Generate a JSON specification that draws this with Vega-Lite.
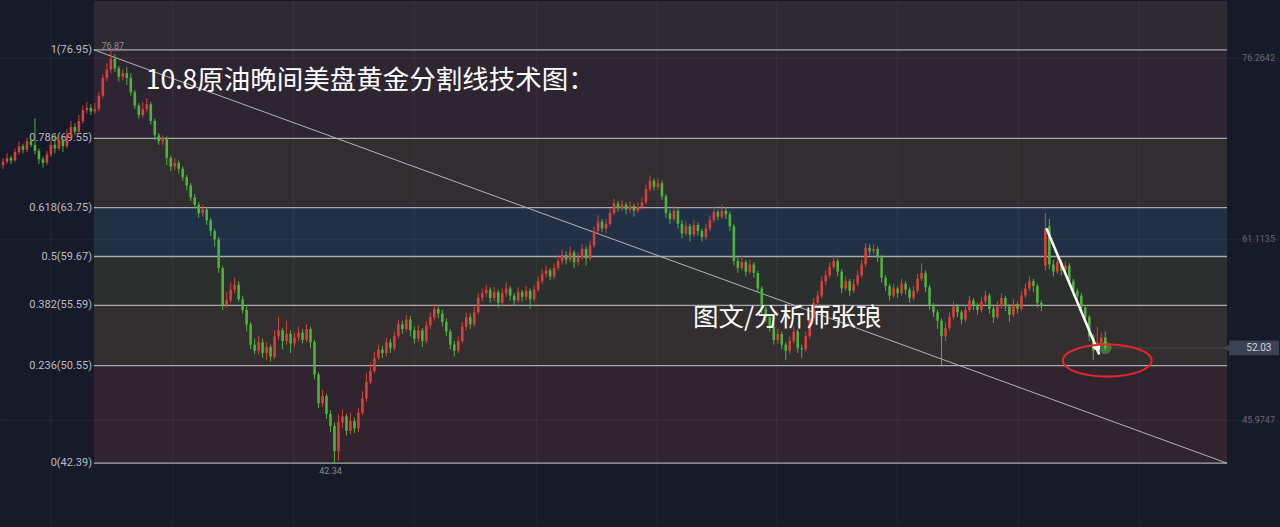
{
"$schema":"https://vega.github.io/schema/vega-lite/v6.json",
"width":1280,"height":527,
"autosize":{"type":"fit","contains":"padding"},
"padding":0,
"background":"#161a29",
"config":{"view":{"stroke":null}},
"datasets":{
"bands":[{"lo":76.95,"hi":81.03,"fill":"#2f2a31"},{"lo":69.55,"hi":76.95,"fill":"#2e2533"},{"lo":63.75,"hi":69.55,"fill":"#312d30"},{"lo":59.67,"hi":63.75,"fill":"#223045"},{"lo":55.59,"hi":59.67,"fill":"#2b302f"},{"lo":50.55,"hi":55.59,"fill":"#332e2f"},{"lo":42.39,"hi":50.55,"fill":"#30242e"}],
"fib":[{"t":"1(76.95)","p":76.95},{"t":"0.786(69.55)","p":69.55},{"t":"0.618(63.75)","p":63.75},{"t":"0.5(59.67)","p":59.67},{"t":"0.382(55.59)","p":55.59},{"t":"0.236(50.55)","p":50.55},{"t":"0(42.39)","p":42.39}],
"gridh":[{"p":76.2642,"t":"76.2642"},{"p":61.1135,"t":"61.1135"},{"p":45.9747,"t":"45.9747"}],
"gridv":[{"g":12},{"g":42.5},{"g":72.75},{"g":103},{"g":133.5},{"g":163.75},{"g":193.75},{"g":224},{"g":254.25},{"g":284.5}],
"trend":[{"i":22.75,"p":76.95},{"i":306.5,"p":42.39}],
"candles":[
{"i":0,"o":67.3,"h":67.9,"l":67.0,"c":67.6},{"i":1,"o":67.6,"h":68.3,"l":67.4,"c":67.9},{"i":2,"o":67.9,"h":68.1,"l":67.4,"c":67.7},{"i":3,"o":67.7,"h":68.7,"l":67.6,"c":68.4},{"i":4,"o":68.4,"h":69.3,"l":68.2,"c":68.9},{"i":5,"o":68.9,"h":69.1,"l":68.3,"c":68.6},{"i":6,"o":68.6,"h":69.6,"l":68.4,"c":69.3},{"i":7,"o":69.3,"h":69.5,"l":68.8,"c":69.0},{"i":8,"o":69.0,"h":71.2,"l":68.2,"c":68.5},{"i":9,"o":68.5,"h":68.7,"l":67.4,"c":67.8},
{"i":10,"o":67.8,"h":68.0,"l":67.1,"c":67.5},{"i":11,"o":67.5,"h":68.5,"l":67.3,"c":68.2},{"i":12,"o":68.2,"h":69.4,"l":68.0,"c":69.0},{"i":13,"o":69.0,"h":70.0,"l":68.3,"c":68.7},{"i":14,"o":68.7,"h":69.8,"l":68.5,"c":69.4},{"i":15,"o":69.4,"h":69.6,"l":68.4,"c":68.9},{"i":16,"o":68.9,"h":70.3,"l":68.7,"c":69.8},{"i":17,"o":69.8,"h":71.0,"l":69.5,"c":70.5},{"i":18,"o":70.5,"h":70.8,"l":69.8,"c":70.1},{"i":19,"o":70.1,"h":71.5,"l":69.9,"c":71.0},
{"i":20,"o":71.0,"h":72.3,"l":70.8,"c":71.9},{"i":21,"o":71.9,"h":72.6,"l":71.6,"c":72.1},{"i":22,"o":72.1,"h":72.4,"l":71.5,"c":71.8},{"i":23,"o":71.8,"h":72.5,"l":71.6,"c":72.0},{"i":24,"o":72.0,"h":73.4,"l":71.8,"c":73.1},{"i":25,"o":73.1,"h":74.9,"l":72.9,"c":74.6},{"i":26,"o":74.6,"h":75.8,"l":74.3,"c":75.3},{"i":27,"o":75.3,"h":76.87,"l":75.0,"c":76.2},{"i":28,"o":76.2,"h":76.6,"l":75.1,"c":75.4},{"i":29,"o":75.4,"h":75.6,"l":74.3,"c":74.7},
{"i":30,"o":74.7,"h":75.3,"l":74.4,"c":75.0},{"i":31,"o":75.0,"h":75.5,"l":74.0,"c":74.6},{"i":32,"o":74.6,"h":75.0,"l":73.1,"c":73.4},{"i":33,"o":73.4,"h":73.6,"l":72.0,"c":72.3},{"i":34,"o":72.3,"h":72.5,"l":71.2,"c":71.5},{"i":35,"o":71.5,"h":72.6,"l":71.3,"c":72.0},{"i":36,"o":72.0,"h":72.9,"l":71.7,"c":72.4},{"i":37,"o":72.4,"h":72.6,"l":70.7,"c":71.0},{"i":38,"o":71.0,"h":71.2,"l":69.4,"c":69.8},{"i":39,"o":69.8,"h":70.0,"l":69.0,"c":69.3},
{"i":40,"o":69.3,"h":69.8,"l":69.0,"c":69.6},{"i":41,"o":69.6,"h":69.7,"l":67.3,"c":67.9},{"i":42,"o":67.9,"h":68.1,"l":66.8,"c":67.2},{"i":43,"o":67.2,"h":67.9,"l":66.9,"c":67.5},{"i":44,"o":67.5,"h":67.7,"l":66.6,"c":67.0},{"i":45,"o":67.0,"h":67.2,"l":66.0,"c":66.3},{"i":46,"o":66.3,"h":66.5,"l":65.2,"c":65.6},{"i":47,"o":65.6,"h":65.8,"l":64.3,"c":64.6},{"i":48,"o":64.6,"h":64.9,"l":63.7,"c":64.0},{"i":49,"o":64.0,"h":64.2,"l":62.9,"c":63.3},
{"i":50,"o":63.3,"h":64.0,"l":63.0,"c":63.6},{"i":51,"o":63.6,"h":63.8,"l":62.3,"c":62.7},{"i":52,"o":62.7,"h":62.9,"l":61.4,"c":61.8},{"i":53,"o":61.8,"h":62.0,"l":60.5,"c":61.1},{"i":54,"o":61.1,"h":61.3,"l":58.3,"c":58.7},{"i":55,"o":58.7,"h":58.9,"l":55.2,"c":55.6},{"i":56,"o":55.6,"h":56.7,"l":55.4,"c":56.0},{"i":57,"o":56.0,"h":57.5,"l":55.8,"c":56.9},{"i":58,"o":56.9,"h":57.9,"l":56.6,"c":57.3},{"i":59,"o":57.3,"h":57.6,"l":55.9,"c":56.1},
{"i":60,"o":56.1,"h":56.4,"l":54.9,"c":55.2},{"i":61,"o":55.2,"h":55.6,"l":53.4,"c":54.0},{"i":62,"o":54.0,"h":54.2,"l":51.9,"c":52.3},{"i":63,"o":52.3,"h":52.8,"l":51.5,"c":51.8},{"i":64,"o":51.8,"h":53.0,"l":51.5,"c":52.5},{"i":65,"o":52.5,"h":52.8,"l":51.2,"c":51.6},{"i":66,"o":51.6,"h":52.5,"l":51.0,"c":52.1},{"i":67,"o":52.1,"h":52.3,"l":50.9,"c":51.3},{"i":68,"o":51.3,"h":53.5,"l":51.1,"c":53.0},{"i":69,"o":53.0,"h":54.6,"l":52.7,"c":53.5},
{"i":70,"o":53.5,"h":53.7,"l":51.9,"c":52.6},{"i":71,"o":52.6,"h":54.3,"l":52.3,"c":53.2},{"i":72,"o":53.2,"h":53.5,"l":51.6,"c":52.4},{"i":73,"o":52.4,"h":53.3,"l":52.1,"c":52.9},{"i":74,"o":52.9,"h":53.8,"l":52.6,"c":53.3},{"i":75,"o":53.3,"h":53.6,"l":52.4,"c":52.7},{"i":76,"o":52.7,"h":54.0,"l":52.5,"c":53.6},{"i":77,"o":53.6,"h":53.8,"l":52.0,"c":52.5},{"i":78,"o":52.5,"h":52.7,"l":49.4,"c":49.8},{"i":79,"o":49.8,"h":50.0,"l":47.0,"c":47.4},
{"i":80,"o":47.4,"h":48.5,"l":47.1,"c":48.0},{"i":81,"o":48.0,"h":48.2,"l":46.1,"c":46.5},{"i":82,"o":46.5,"h":46.8,"l":45.0,"c":45.5},{"i":83,"o":45.5,"h":45.8,"l":42.34,"c":43.4},{"i":84,"o":43.4,"h":46.5,"l":42.6,"c":45.8},{"i":85,"o":45.8,"h":46.9,"l":45.3,"c":46.3},{"i":86,"o":46.3,"h":46.5,"l":44.7,"c":45.1},{"i":87,"o":45.1,"h":46.6,"l":44.8,"c":45.9},{"i":88,"o":45.9,"h":46.2,"l":44.9,"c":45.3},{"i":89,"o":45.3,"h":47.0,"l":45.0,"c":46.6},
{"i":90,"o":46.6,"h":48.4,"l":46.4,"c":47.8},{"i":91,"o":47.8,"h":49.9,"l":47.5,"c":49.2},{"i":92,"o":49.2,"h":50.8,"l":49.0,"c":50.1},{"i":93,"o":50.1,"h":51.7,"l":49.9,"c":51.2},{"i":94,"o":51.2,"h":52.3,"l":51.0,"c":51.9},{"i":95,"o":51.9,"h":52.2,"l":51.2,"c":51.6},{"i":96,"o":51.6,"h":52.9,"l":51.3,"c":52.5},{"i":97,"o":52.5,"h":52.8,"l":51.6,"c":52.0},{"i":98,"o":52.0,"h":53.4,"l":51.8,"c":53.0},{"i":99,"o":53.0,"h":54.4,"l":52.8,"c":54.0},
{"i":100,"o":54.0,"h":54.3,"l":53.2,"c":53.6},{"i":101,"o":53.6,"h":54.8,"l":53.4,"c":54.4},{"i":102,"o":54.4,"h":54.7,"l":53.0,"c":53.5},{"i":103,"o":53.5,"h":53.8,"l":52.4,"c":52.8},{"i":104,"o":52.8,"h":53.9,"l":52.5,"c":53.5},{"i":105,"o":53.5,"h":53.7,"l":52.1,"c":52.6},{"i":106,"o":52.6,"h":54.3,"l":52.4,"c":53.9},{"i":107,"o":53.9,"h":55.0,"l":53.6,"c":54.6},{"i":108,"o":54.6,"h":55.7,"l":54.3,"c":55.3},{"i":109,"o":55.3,"h":55.6,"l":54.5,"c":54.9},
{"i":110,"o":54.9,"h":55.2,"l":53.8,"c":54.2},{"i":111,"o":54.2,"h":54.5,"l":53.0,"c":53.4},{"i":112,"o":53.4,"h":53.6,"l":51.9,"c":52.3},{"i":113,"o":52.3,"h":52.6,"l":51.3,"c":51.8},{"i":114,"o":51.8,"h":53.0,"l":51.6,"c":52.6},{"i":115,"o":52.6,"h":54.2,"l":52.4,"c":53.8},{"i":116,"o":53.8,"h":55.0,"l":53.5,"c":54.6},{"i":117,"o":54.6,"h":54.9,"l":53.6,"c":54.0},{"i":118,"o":54.0,"h":55.5,"l":53.8,"c":55.0},{"i":119,"o":55.0,"h":56.6,"l":54.8,"c":56.2},
{"i":120,"o":56.2,"h":57.0,"l":55.9,"c":56.6},{"i":121,"o":56.6,"h":57.3,"l":56.3,"c":56.9},{"i":122,"o":56.9,"h":57.1,"l":55.8,"c":56.2},{"i":123,"o":56.2,"h":57.1,"l":55.9,"c":56.7},{"i":124,"o":56.7,"h":56.9,"l":55.4,"c":55.8},{"i":125,"o":55.8,"h":57.0,"l":55.5,"c":56.6},{"i":126,"o":56.6,"h":57.5,"l":56.3,"c":57.0},{"i":127,"o":57.0,"h":57.2,"l":56.0,"c":56.4},{"i":128,"o":56.4,"h":56.6,"l":55.6,"c":56.0},{"i":129,"o":56.0,"h":57.1,"l":55.8,"c":56.7},
{"i":130,"o":56.7,"h":56.9,"l":55.9,"c":56.3},{"i":131,"o":56.3,"h":57.2,"l":56.0,"c":56.8},{"i":132,"o":56.8,"h":57.0,"l":55.3,"c":56.1},{"i":133,"o":56.1,"h":57.3,"l":55.9,"c":56.9},{"i":134,"o":56.9,"h":58.0,"l":56.7,"c":57.6},{"i":135,"o":57.6,"h":58.6,"l":57.4,"c":58.2},{"i":136,"o":58.2,"h":58.9,"l":57.9,"c":58.5},{"i":137,"o":58.5,"h":58.7,"l":57.7,"c":58.0},{"i":138,"o":58.0,"h":59.1,"l":57.8,"c":58.7},{"i":139,"o":58.7,"h":59.8,"l":58.5,"c":59.3},
{"i":140,"o":59.3,"h":60.3,"l":59.0,"c":59.8},{"i":141,"o":59.8,"h":60.1,"l":59.0,"c":59.4},{"i":142,"o":59.4,"h":60.5,"l":59.2,"c":60.0},{"i":143,"o":60.0,"h":60.2,"l":58.7,"c":59.2},{"i":144,"o":59.2,"h":60.0,"l":58.9,"c":59.6},{"i":145,"o":59.6,"h":60.7,"l":59.4,"c":60.3},{"i":146,"o":60.3,"h":60.5,"l":58.9,"c":59.5},{"i":147,"o":59.5,"h":61.0,"l":59.3,"c":60.6},{"i":148,"o":60.6,"h":62.2,"l":60.4,"c":61.8},{"i":149,"o":61.8,"h":63.1,"l":61.6,"c":62.6},
{"i":150,"o":62.6,"h":62.8,"l":61.7,"c":62.0},{"i":151,"o":62.0,"h":62.8,"l":61.6,"c":62.4},{"i":152,"o":62.4,"h":63.7,"l":62.2,"c":63.3},{"i":153,"o":63.3,"h":64.5,"l":63.1,"c":64.1},{"i":154,"o":64.1,"h":64.3,"l":63.4,"c":63.7},{"i":155,"o":63.7,"h":64.4,"l":63.5,"c":64.0},{"i":156,"o":64.0,"h":64.2,"l":63.2,"c":63.6},{"i":157,"o":63.6,"h":64.3,"l":63.3,"c":63.9},{"i":158,"o":63.9,"h":64.1,"l":63.0,"c":63.5},{"i":159,"o":63.5,"h":64.2,"l":63.3,"c":63.8},
{"i":160,"o":63.8,"h":64.6,"l":63.6,"c":64.2},{"i":161,"o":64.2,"h":65.7,"l":64.0,"c":65.3},{"i":162,"o":65.3,"h":66.45,"l":65.1,"c":66.0},{"i":163,"o":66.0,"h":66.2,"l":65.2,"c":65.5},{"i":164,"o":65.5,"h":66.2,"l":65.2,"c":65.8},{"i":165,"o":65.8,"h":66.0,"l":64.4,"c":64.7},{"i":166,"o":64.7,"h":64.9,"l":62.9,"c":63.3},{"i":167,"o":63.3,"h":63.6,"l":62.4,"c":62.8},{"i":168,"o":62.8,"h":63.9,"l":62.6,"c":63.5},{"i":169,"o":63.5,"h":63.7,"l":62.0,"c":62.4},
{"i":170,"o":62.4,"h":62.7,"l":61.2,"c":61.6},{"i":171,"o":61.6,"h":62.6,"l":61.4,"c":62.2},{"i":172,"o":62.2,"h":62.4,"l":60.9,"c":61.5},{"i":173,"o":61.5,"h":62.7,"l":61.3,"c":62.3},{"i":174,"o":62.3,"h":62.5,"l":61.4,"c":61.8},{"i":175,"o":61.8,"h":62.0,"l":60.9,"c":61.3},{"i":176,"o":61.3,"h":62.4,"l":61.1,"c":62.0},{"i":177,"o":62.0,"h":63.1,"l":61.8,"c":62.7},{"i":178,"o":62.7,"h":63.8,"l":62.5,"c":63.4},{"i":179,"o":63.4,"h":63.6,"l":62.7,"c":63.0},
{"i":180,"o":63.0,"h":64.0,"l":62.8,"c":63.5},{"i":181,"o":63.5,"h":63.8,"l":62.8,"c":63.2},{"i":182,"o":63.2,"h":63.4,"l":61.8,"c":62.2},{"i":183,"o":62.2,"h":62.4,"l":58.9,"c":59.3},{"i":184,"o":59.3,"h":59.6,"l":58.3,"c":58.7},{"i":185,"o":58.7,"h":59.7,"l":58.5,"c":59.2},{"i":186,"o":59.2,"h":59.4,"l":58.0,"c":58.4},{"i":187,"o":58.4,"h":59.4,"l":58.2,"c":59.0},{"i":188,"o":59.0,"h":59.2,"l":57.9,"c":58.3},{"i":189,"o":58.3,"h":58.5,"l":56.6,"c":57.0},
{"i":190,"o":57.0,"h":57.2,"l":54.9,"c":55.3},{"i":191,"o":55.3,"h":55.5,"l":54.2,"c":54.6},{"i":192,"o":54.6,"h":54.8,"l":53.4,"c":53.8},{"i":193,"o":53.8,"h":54.0,"l":52.3,"c":52.7},{"i":194,"o":52.7,"h":53.6,"l":52.4,"c":53.2},{"i":195,"o":53.2,"h":53.4,"l":51.9,"c":52.3},{"i":196,"o":52.3,"h":52.5,"l":51.0,"c":51.8},{"i":197,"o":51.8,"h":53.0,"l":51.5,"c":52.6},{"i":198,"o":52.6,"h":53.8,"l":52.4,"c":53.4},{"i":199,"o":53.4,"h":53.6,"l":51.6,"c":52.0},
{"i":200,"o":52.0,"h":52.3,"l":51.2,"c":51.9},{"i":201,"o":51.9,"h":53.4,"l":51.7,"c":53.0},{"i":202,"o":53.0,"h":54.9,"l":52.8,"c":54.5},{"i":203,"o":54.5,"h":56.2,"l":54.3,"c":55.8},{"i":204,"o":55.8,"h":56.8,"l":55.5,"c":56.4},{"i":205,"o":56.4,"h":58.0,"l":56.2,"c":57.6},{"i":206,"o":57.6,"h":58.5,"l":57.3,"c":58.1},{"i":207,"o":58.1,"h":59.2,"l":57.9,"c":58.8},{"i":208,"o":58.8,"h":59.8,"l":58.6,"c":59.3},{"i":209,"o":59.3,"h":59.5,"l":58.0,"c":58.4},
{"i":210,"o":58.4,"h":58.6,"l":56.6,"c":57.0},{"i":211,"o":57.0,"h":58.0,"l":56.8,"c":57.6},{"i":212,"o":57.6,"h":57.8,"l":56.4,"c":56.8},{"i":213,"o":56.8,"h":57.8,"l":56.6,"c":57.4},{"i":214,"o":57.4,"h":58.5,"l":57.2,"c":58.1},{"i":215,"o":58.1,"h":59.4,"l":57.9,"c":59.0},{"i":216,"o":59.0,"h":60.8,"l":58.8,"c":60.4},{"i":217,"o":60.4,"h":60.7,"l":59.8,"c":60.1},{"i":218,"o":60.1,"h":60.7,"l":59.9,"c":60.3},{"i":219,"o":60.3,"h":60.5,"l":59.2,"c":59.6},
{"i":220,"o":59.6,"h":59.8,"l":57.5,"c":57.9},{"i":221,"o":57.9,"h":58.1,"l":56.8,"c":57.2},{"i":222,"o":57.2,"h":57.4,"l":56.0,"c":56.4},{"i":223,"o":56.4,"h":57.4,"l":56.2,"c":57.0},{"i":224,"o":57.0,"h":57.2,"l":56.2,"c":56.6},{"i":225,"o":56.6,"h":57.8,"l":56.4,"c":57.4},{"i":226,"o":57.4,"h":57.6,"l":56.5,"c":56.9},{"i":227,"o":56.9,"h":57.1,"l":55.8,"c":56.2},{"i":228,"o":56.2,"h":57.2,"l":56.0,"c":56.8},{"i":229,"o":56.8,"h":58.2,"l":56.6,"c":57.8},
{"i":230,"o":57.8,"h":59.1,"l":57.6,"c":58.3},{"i":231,"o":58.3,"h":58.5,"l":56.7,"c":57.1},{"i":232,"o":57.1,"h":57.3,"l":55.2,"c":55.6},{"i":233,"o":55.6,"h":55.8,"l":54.6,"c":55.0},{"i":234,"o":55.0,"h":55.2,"l":53.6,"c":54.3},{"i":235,"o":54.3,"h":54.5,"l":50.6,"c":53.0},{"i":236,"o":53.0,"h":54.1,"l":52.6,"c":53.7},{"i":237,"o":53.7,"h":55.0,"l":53.5,"c":54.6},{"i":238,"o":54.6,"h":55.9,"l":54.4,"c":55.5},{"i":239,"o":55.5,"h":55.7,"l":54.6,"c":55.0},
{"i":240,"o":55.0,"h":55.2,"l":54.0,"c":54.4},{"i":241,"o":54.4,"h":55.6,"l":54.2,"c":55.2},{"i":242,"o":55.2,"h":56.4,"l":55.0,"c":56.0},{"i":243,"o":56.0,"h":56.2,"l":55.2,"c":55.6},{"i":244,"o":55.6,"h":55.8,"l":54.8,"c":55.2},{"i":245,"o":55.2,"h":56.3,"l":55.0,"c":55.9},{"i":246,"o":55.9,"h":56.8,"l":55.7,"c":56.4},{"i":247,"o":56.4,"h":56.6,"l":54.9,"c":55.3},{"i":248,"o":55.3,"h":55.5,"l":54.1,"c":54.6},{"i":249,"o":54.6,"h":55.9,"l":54.4,"c":55.5},
{"i":250,"o":55.5,"h":56.6,"l":55.3,"c":56.2},{"i":251,"o":56.2,"h":56.4,"l":55.1,"c":55.5},{"i":252,"o":55.5,"h":55.7,"l":54.2,"c":54.8},{"i":253,"o":54.8,"h":56.1,"l":54.6,"c":55.7},{"i":254,"o":55.7,"h":55.9,"l":54.9,"c":55.3},{"i":255,"o":55.3,"h":56.8,"l":55.1,"c":56.4},{"i":256,"o":56.4,"h":57.4,"l":56.2,"c":57.0},{"i":257,"o":57.0,"h":58.0,"l":56.8,"c":57.6},{"i":258,"o":57.6,"h":57.8,"l":56.7,"c":57.2},{"i":259,"o":57.2,"h":57.4,"l":55.4,"c":55.8},
{"i":260,"o":55.8,"h":56.0,"l":55.1,"c":55.5},{"i":261,"o":58.9,"h":63.3,"l":58.5,"c":62.0},{"i":262,"o":62.2,"h":62.8,"l":58.6,"c":59.0},{"i":263,"o":59.0,"h":59.4,"l":58.0,"c":58.4},{"i":264,"o":58.4,"h":59.6,"l":58.2,"c":59.2},{"i":265,"o":59.2,"h":59.4,"l":58.1,"c":58.5},{"i":266,"o":58.5,"h":59.3,"l":58.3,"c":58.9},{"i":267,"o":58.9,"h":59.1,"l":57.2,"c":57.6},{"i":268,"o":57.6,"h":57.8,"l":56.4,"c":56.8},{"i":269,"o":56.8,"h":57.0,"l":55.9,"c":56.4},
{"i":270,"o":56.4,"h":56.6,"l":55.0,"c":55.4},{"i":271,"o":55.4,"h":55.6,"l":54.2,"c":54.6},{"i":272,"o":54.6,"h":54.8,"l":52.6,"c":53.0},{"i":273,"o":53.0,"h":53.2,"l":51.0,"c":51.8},{"i":274,"o":51.8,"h":53.8,"l":51.6,"c":52.5},{"i":275,"o":52.5,"h":53.3,"l":52.3,"c":52.9},{"i":276,"o":52.9,"h":53.4,"l":51.8,"c":52.03}
],
"arrow":[{"i1":261.25,"p1":62.04,"i2":274.5,"p2":51.47}],
"notes":[
{"i":35.75,"p":74.37,"t":"10.8原油晚间美盘黄金分割线技术图：","k":"title"},
{"i":172.75,"p":54.55,"t":"图文/分析师张琅","k":"author"}
],
"small":[{"i":27.5,"p":77.3,"t":"76.87"},{"i":82,"p":41.7,"t":"42.34"}]
},
"layer":[
{"data":{"name":"bands"},"mark":{"type":"rect"},
 "encoding":{"x":{"datum":22.75,"type":"quantitative","scale":{"domain":[-0.5,319.5],"nice":false,"zero":false,"padding":0},"axis":null},"x2":{"datum":306.5},
 "y":{"field":"lo","type":"quantitative","scale":{"domain":[37.14,81.03],"nice":false,"zero":false,"padding":0},"axis":null},"y2":{"field":"hi"},
 "color":{"field":"fill","type":"nominal","scale":null,"legend":null}}},
{"data":{"name":"gridh"},"mark":{"type":"rule","stroke":"#ffffff","strokeOpacity":0.06,"strokeWidth":1},
 "encoding":{"x":{"datum":-0.5,"type":"quantitative"},"x2":{"datum":319.5},"y":{"field":"p","type":"quantitative"}}},
{"data":{"name":"gridv"},"mark":{"type":"rule","stroke":"#ffffff","strokeOpacity":0.05,"strokeWidth":1},
 "encoding":{"x":{"field":"g","type":"quantitative"},"y":{"datum":37.14,"type":"quantitative"},"y2":{"datum":81.03}}},
{"data":{"name":"fib"},"mark":{"type":"rule","stroke":"#a9a9ae","strokeWidth":1.3},
 "encoding":{"x":{"datum":22.75,"type":"quantitative"},"x2":{"datum":306.5},"y":{"field":"p","type":"quantitative"}}},
{"data":{"name":"fib"},"mark":{"type":"text","align":"right","baseline":"middle","font":"Roboto","fontSize":11,"fill":"#b9bdc8"},
 "encoding":{"x":{"datum":22.3,"type":"quantitative"},"y":{"field":"p","type":"quantitative"},"text":{"field":"t"}}},
{"data":{"name":"trend"},"mark":{"type":"line","stroke":"#b4b4b8","strokeWidth":1},
 "encoding":{"x":{"field":"i","type":"quantitative"},"y":{"field":"p","type":"quantitative"}}},
{"data":{"name":"candles"},"mark":{"type":"rule","strokeWidth":1},
 "encoding":{"x":{"field":"i","type":"quantitative"},"y":{"field":"l","type":"quantitative"},"y2":{"field":"h"},
 "color":{"condition":{"test":"datum.c >= datum.o","value":"#d9403a"},"value":"#4db33d"}}},
{"data":{"name":"candles"},"mark":{"type":"bar","size":2.6},
 "encoding":{"x":{"field":"i","type":"quantitative"},"y":{"field":"o","type":"quantitative"},"y2":{"field":"c"},
 "color":{"condition":{"test":"datum.c >= datum.o","value":"#d9403a"},"value":"#4db33d"}}},
{"data":{"values":[{"i":276,"p":52.03}]},"mark":{"type":"point","shape":"circle","filled":true,"fill":"#5ef04a","opacity":0.35,"size":160},
 "encoding":{"x":{"field":"i","type":"quantitative"},"y":{"field":"p","type":"quantitative"}}},
{"data":{"values":[{"i1":276.5,"i2":306.5,"p":52.03}]},"mark":{"type":"rule","stroke":"#ffffff","strokeOpacity":0.12,"strokeWidth":1},
 "encoding":{"x":{"field":"i1","type":"quantitative"},"x2":{"field":"i2"},"y":{"field":"p","type":"quantitative"}}},
{"data":{"name":"arrow"},"mark":{"type":"rule","stroke":"#ffffff","strokeWidth":2.5},
 "encoding":{"x":{"field":"i1","type":"quantitative"},"x2":{"field":"i2"},"y":{"field":"p1","type":"quantitative"},"y2":{"field":"p2"}}},
{"data":{"values":[{"i":274.1,"p":51.95}]},"mark":{"type":"point","shape":"triangle-down","filled":true,"fill":"#ffffff","opacity":1,"size":90,"angle":-23},
 "encoding":{"x":{"field":"i","type":"quantitative"},"y":{"field":"p","type":"quantitative"}}},
{"data":{"values":[{"i":276.5,"p":50.97}]},"mark":{"type":"point","shape":"M -1 0 C -1 -0.199 -0.552 -0.36 0 -0.36 C 0.552 -0.36 1 -0.199 1 0 C 1 0.199 0.552 0.36 0 0.36 C -0.552 0.36 -1 0.199 -1 0 Z","filled":false,"stroke":"#e8262a","strokeWidth":2,"opacity":1,"size":7921},
 "encoding":{"x":{"field":"i","type":"quantitative"},"y":{"field":"p","type":"quantitative"}}},
{"data":{"values":[{"i1":307,"i2":319.5,"lo":51.41,"hi":52.65}]},"mark":{"type":"rect","fill":"#3b4254"},
 "encoding":{"x":{"field":"i1","type":"quantitative"},"x2":{"field":"i2"},"y":{"field":"lo","type":"quantitative"},"y2":{"field":"hi"}}},
{"data":{"values":[{"i":306.4,"p":52.03}]},"mark":{"type":"point","shape":"triangle-left","filled":true,"fill":"#3b4254","opacity":1,"size":70},
 "encoding":{"x":{"field":"i","type":"quantitative"},"y":{"field":"p","type":"quantitative"}}},
{"data":{"values":[{"i":317.6,"p":52.03,"t":"52.03"}]},"mark":{"type":"text","align":"right","baseline":"middle","font":"Roboto","fontSize":10,"fill":"#d2d4dc"},
 "encoding":{"x":{"field":"i","type":"quantitative"},"y":{"field":"p","type":"quantitative"},"text":{"field":"t"}}},
{"data":{"name":"gridh"},"mark":{"type":"text","align":"left","baseline":"middle","font":"Roboto","fontSize":9,"fill":"#646a7a"},
 "encoding":{"x":{"datum":310.3,"type":"quantitative"},"y":{"field":"p","type":"quantitative"},"text":{"field":"t"}}},
{"data":{"name":"small"},"mark":{"type":"text","align":"center","baseline":"middle","font":"Roboto","fontSize":9,"fill":"#8c8c94"},
 "encoding":{"x":{"field":"i","type":"quantitative"},"y":{"field":"p","type":"quantitative"},"text":{"field":"t"}}},
{"data":{"name":"notes"},"mark":{"type":"text","align":"left","baseline":"middle","font":"Noto Sans CJK SC","fill":"#ffffff"},
 "encoding":{"x":{"field":"i","type":"quantitative"},"y":{"field":"p","type":"quantitative"},"text":{"field":"t"},
 "size":{"field":"k","type":"nominal","scale":{"domain":["title","author"],"range":[26.5,25.5]},"legend":null}}}
]
}
